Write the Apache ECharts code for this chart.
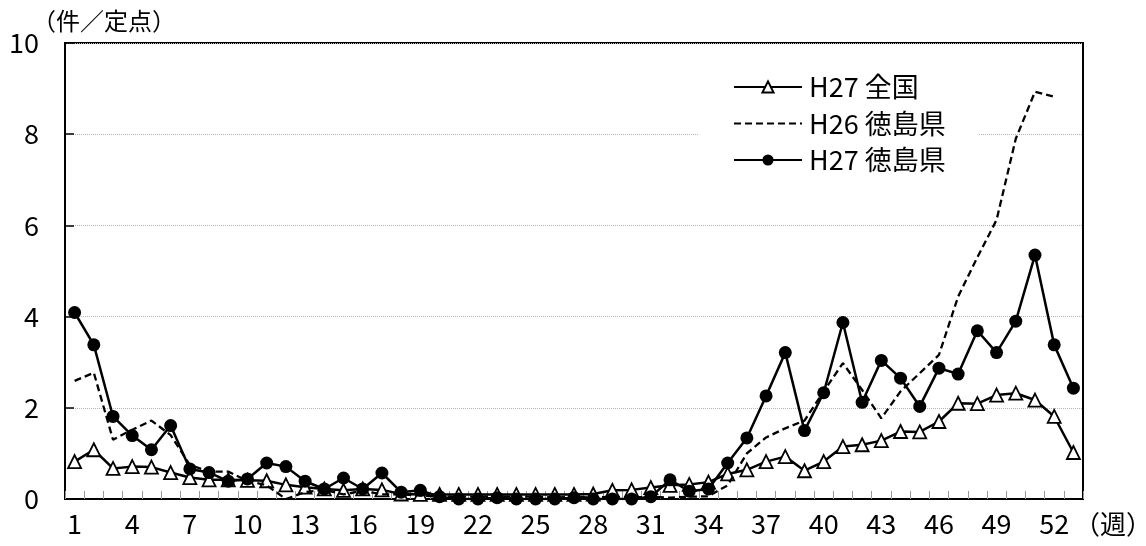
<!DOCTYPE html>
<html>
<head>
<meta charset="utf-8">
<script src="https://cdn.jsdelivr.net/npm/echarts@6/dist/echarts.min.js"></script>
<style>
  html, body { margin: 0; padding: 0; background: #fff; }
  #chart { width: 1146px; height: 546px; }
</style>
</head>
<body>
<div id="chart"></div>
<script>
// 週 (week numbers 1–53)
const weeks = Array.from({ length: 53 }, (_, i) => String(i + 1));

// 定点当たり報告数
const national27 = [0.82, 1.08, 0.67, 0.71, 0.70, 0.58, 0.47, 0.42, 0.42, 0.41,
  0.40, 0.31, 0.26, 0.22, 0.19, 0.22, 0.20, 0.11, 0.10, 0.10,
  0.10, 0.10, 0.10, 0.10, 0.10, 0.10, 0.10, 0.11, 0.19, 0.20,
  0.25, 0.30, 0.32, 0.37, 0.55, 0.64, 0.82, 0.93, 0.62, 0.82,
  1.15, 1.19, 1.28, 1.48, 1.47, 1.70, 2.10, 2.09, 2.28, 2.32,
  2.17, 1.81, 1.02];

const tokushima26 = [2.59, 2.77, 1.30, 1.52, 1.72, 1.40, 0.75, 0.60, 0.60, 0.40,
  0.30, 0.00, 0.15, 0.20, 0.10, 0.18, 0.10, 0.10, 0.08, 0.05,
  0.05, 0.05, 0.05, 0.05, 0.05, 0.03, 0.05, 0.03, 0.05, 0.03,
  0.05, 0.03, 0.05, 0.06, 0.30, 1.00, 1.35, 1.55, 1.72, 2.36,
  2.98, 2.39, 1.77, 2.36, 2.76, 3.16, 4.44, 5.30, 6.12, 7.90,
  8.93, 8.82, null];

const tokushima27 = [4.09, 3.38, 1.81, 1.39, 1.08, 1.61, 0.66, 0.58, 0.39, 0.44,
  0.79, 0.71, 0.39, 0.22, 0.46, 0.22, 0.57, 0.15, 0.19, 0.05,
  0.00, 0.00, 0.03, 0.00, 0.00, 0.00, 0.03, 0.00, 0.00, 0.00,
  0.05, 0.42, 0.17, 0.22, 0.79, 1.34, 2.26, 3.21, 1.50, 2.33,
  3.87, 2.12, 3.04, 2.65, 2.03, 2.87, 2.74, 3.69, 3.21, 3.90,
  5.35, 3.38, 2.43];

const seriesNames = ['H27 全国', 'H26 徳島県', 'H27 徳島県'];
const yUnit = '（件／定点）';
const xUnit = '（週）';

const FONT = '"Noto Sans CJK JP", "Noto Sans", sans-serif';

const chart = echarts.init(document.getElementById('chart'), null, { renderer: 'canvas' });

chart.setOption({
  animation: false,
  backgroundColor: '#ffffff',
  textStyle: { fontFamily: FONT, color: '#000' },
  grid: {
    left: 65, right: 63, top: 43, bottom: 47,
    show: true, borderColor: '#000', borderWidth: 2, backgroundColor: 'transparent'
  },
  legend: {
    orient: 'vertical',
    left: 699, top: 59,
    align: 'left',
    backgroundColor: '#ffffff',
    padding: [14, 33, 14, 34],
    itemWidth: 68, itemHeight: 14, itemGap: 8.5,
    textStyle: { fontFamily: FONT, fontSize: 27, color: '#000', lineHeight: 28, padding: [0, 0, 0, 2] },
    data: [
      { name: seriesNames[0] },
      { name: seriesNames[1], itemStyle: { opacity: 0 } },
      { name: seriesNames[2] }
    ]
  },
  graphic: [
    {
      type: 'text', left: 32, top: 9,
      style: { text: yUnit, font: '24px ' + FONT, fill: '#000' }
    },
    {
      type: 'text', left: 1074, top: 511,
      style: { text: xUnit, font: '26px ' + FONT, fill: '#000' }
    }
  ],
  xAxis: {
    type: 'category',
    data: weeks,
    boundaryGap: true,
    axisLine: { lineStyle: { color: '#000', width: 2 } },
    axisTick: { show: true, inside: true, length: 8, interval: 0, lineStyle: { color: '#999', width: 1 } },
    axisLabel: { interval: 2, fontSize: 27, color: '#000', margin: 11, fontFamily: FONT },
    splitLine: { show: false }
  },
  yAxis: {
    type: 'value',
    min: 0, max: 10, interval: 2,
    axisLine: { show: true, lineStyle: { color: '#000', width: 2 } },
    axisTick: { show: true, inside: true, length: 9, lineStyle: { color: '#000', width: 1.5 } },
    axisLabel: { fontSize: 27, color: '#000', margin: 26, fontFamily: FONT },
    splitLine: { show: true, lineStyle: { color: '#b4b4b4', type: 'dotted', width: 1 } }
  },
  series: [
    {
      name: seriesNames[0],
      type: 'line',
      data: national27,
      symbol: 'triangle',
      symbolSize: 13,
      showAllSymbol: true,
      lineStyle: { color: '#000', width: 2.5 },
      itemStyle: { color: '#fff', borderColor: '#000', borderWidth: 1.8 },
      z: 2
    },
    {
      name: seriesNames[1],
      type: 'line',
      data: tokushima26,
      symbol: 'none',
      lineStyle: { color: '#000', width: 2.3, type: [7, 4] },
      itemStyle: { color: '#000' },
      z: 3
    },
    {
      name: seriesNames[2],
      type: 'line',
      data: tokushima27,
      symbol: 'circle',
      symbolSize: 13,
      showAllSymbol: true,
      lineStyle: { color: '#000', width: 2.5 },
      itemStyle: { color: '#000', borderColor: '#000', borderWidth: 0 },
      z: 4
    }
  ]
});
</script>
</body>
</html>
